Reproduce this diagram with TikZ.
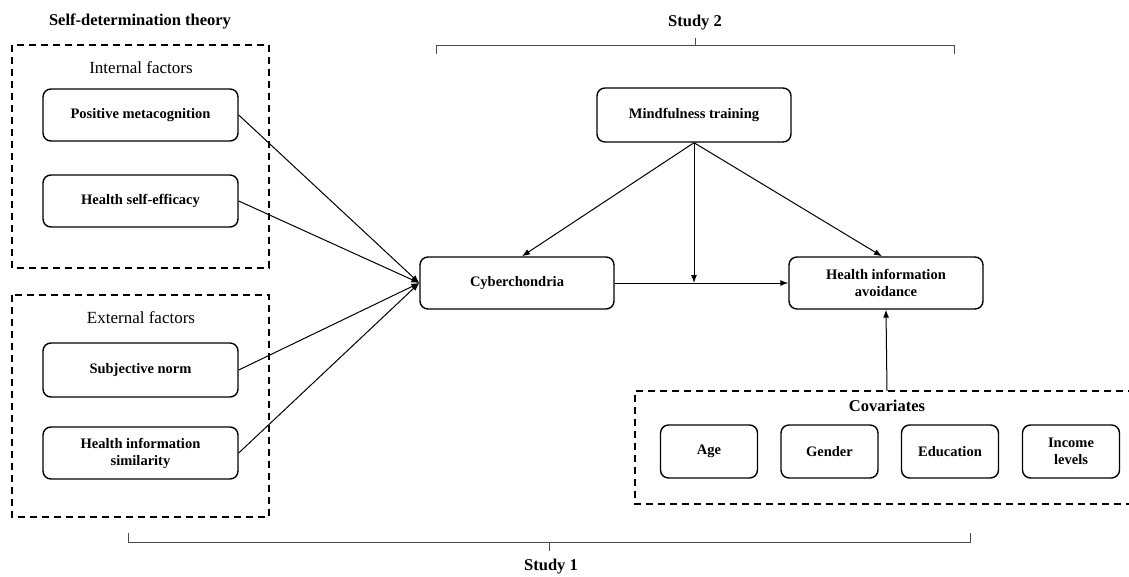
\documentclass[tikz,border=0pt]{standalone}
\usepackage{fontspec}
\setmainfont{Liberation Serif}
\usepackage{tikz}
\usetikzlibrary{shapes}
\usetikzlibrary{arrows.meta}
\tikzset{
    factor/.style = {rectangle, rounded corners=8pt, line width=1.4pt, draw=black, align=center, minimum width=195pt, minimum height=52pt, inner sep=2pt, font=\bfseries\fontsize{14.5}{17}\selectfont},
    covar/.style = {factor, minimum width=97pt, minimum height=53pt},
    groupbox/.style = {line width=1.4pt, draw=black, dash pattern=on 7pt off 5pt},
    heading/.style = {font=\bfseries\fontsize{16.5}{19}\selectfont},
    subhead/.style = {font=\fontsize{17}{20}\selectfont},
    edgen/.style = {-{Latex[length=8pt,width=6pt]}, line width=1pt},
    bracket/.style = {line width=1pt, draw=black!70}
}

\begin{document}
\begin{tikzpicture}[x=1pt,y=-1pt]
\path[use as bounding box] (0,0) rectangle (1129,577);
%
\node[heading] at (140,21) (sdt) {Self-determination theory};
\draw[groupbox] (12,45) rectangle (269,268);
\draw[groupbox] (12,295) rectangle (269,517);
\node[subhead] at (141,68) (inf) {Internal factors};
\node[subhead] at (141,318) (exf) {External factors};
%
\node[factor] at (140.5,115) (pm) {Positive metacognition};
\node[factor] at (140.5,201) (hse) {Health self-efficacy};
\node[factor,minimum height=54pt] at (140.5,370) (sn) {Subjective norm};
\node[factor] at (140.5,453) (his) {Health information\\similarity};
%
\node[factor,minimum width=194pt] at (517,283) (cy) {Cyberchondria};
\node[factor,minimum width=194pt] at (886,283) (hia) {Health information\\avoidance};
\node[factor,minimum width=194pt,minimum height=54pt] at (694,115) (mt) {Mindfulness training};
\coordinate (mid) at (694,283);
%
\draw[groupbox] (1135,391) -| (635,504) -- (1135,504);
\node[heading] at (887,406) (cov) {Covariates};
\coordinate (covtop) at (887,391);
\node[covar] at (709,451.5) (age) {Age};
\node[covar] at (829.5,451.5) (gen) {Gender};
\node[covar] at (950,451.5) (edu) {Education};
\node[covar] at (1071,451.5) (inc) {Income\\levels};
%
\draw[edgen] (pm.east) -- (cy.west);
\draw[edgen] (hse.east) -- (cy.west);
\draw[edgen] (sn.east) -- (cy.west);
\draw[edgen] (his.east) -- (cy.west);
\draw[edgen] (cy.east) -- (hia.west);
\draw[edgen] (mt.south) -- ([xshift=5pt]cy.north);
\draw[edgen] (mt.south) -- (mid);
\draw[edgen] (mt.south) -- ([xshift=-4pt]hia.north);
\draw[edgen] (covtop) -- (hia.south);
%
\draw[bracket] (436,54) -- (436,46) -- (954,46) -- (954,54);
\draw[bracket] (695,46) -- (695,38);
\node[heading] at (695,23) (st2) {Study 2};
\draw[bracket] (128,533) -- (128,542) -- (970,542) -- (970,533);
\draw[bracket] (549,542) -- (549,551);
\node[heading] at (551,567) (st1) {Study 1};

\end{tikzpicture}
\end{document}
